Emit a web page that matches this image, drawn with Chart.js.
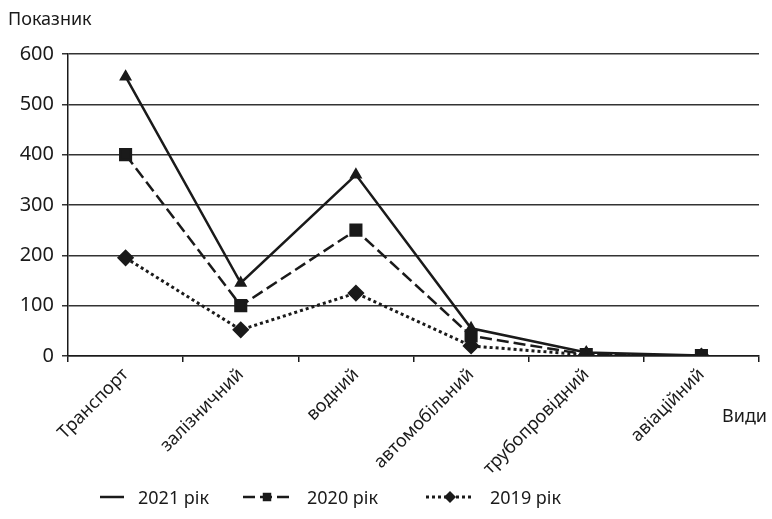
<!DOCTYPE html>
<html>
<head>
<meta charset="utf-8">
<script src="https://cdn.jsdelivr.net/npm/chart.js@4"></script>
<style>
  html, body { margin: 0; padding: 0; background: #fff; }
  #wrap { position: relative; width: 772px; height: 519px; }
</style>
</head>
<body>
<div id="wrap"><canvas id="chart" width="772" height="519"></canvas></div>
<script>
const categories = ['Транспорт', 'залізничний', 'водний', 'автомобільний', 'трубопровідний', 'авіаційний'];
const values2021 = [555, 145, 360, 55, 7, 1];
const values2020 = [400, 100, 250, 40, 3, 1];
const values2019 = [195, 52, 125, 20, 2, 0];
const yTicks = [0, 100, 200, 300, 400, 500, 600];
const seriesNames = ['2021 рік', '2020 рік', '2019 рік'];

const FONT = "'Noto Sans', 'Open Sans', sans-serif";
const INK = '#1a1a1a';

// axis titles and the legend row under the chart
const extras = {
  id: 'extras',
  afterDraw(chart) {
    const ctx = chart.ctx;
    ctx.save();
    ctx.fillStyle = INK;
    ctx.font = '18px ' + FONT;
    ctx.textBaseline = 'alphabetic';
    ctx.textAlign = 'left';
    ctx.fillText('Показник', 8, 25);
    ctx.fillText('Види', 722, 422);

    const rows = [
      { x: 100, dash: [], marker: null },
      { x: 243, dash: [12, 5], marker: 'rect' },
      { x: 426, dash: [3, 3], marker: 'rectRot' }
    ];
    const y = 497;
    rows.forEach((r, i) => {
      ctx.strokeStyle = INK;
      ctx.lineWidth = i === 2 ? 3 : 2.5;
      ctx.setLineDash(r.dash);
      ctx.beginPath();
      ctx.moveTo(r.x, y);
      ctx.lineTo(r.x + (i === 0 ? 24 : 48), y);
      ctx.stroke();
      ctx.setLineDash([]);
      if (r.marker) {
        Chart.helpers.drawPoint(ctx, { pointStyle: r.marker, radius: 6, rotation: 0, borderWidth: 0 }, r.x + 24, y);
      }
      ctx.fillText(seriesNames[i], r.x + (i === 0 ? 38 : 64), y + 7);
    });
    ctx.restore();
  }
};

new Chart(document.getElementById('chart'), {
  type: 'line',
  data: {
    labels: categories,
    datasets: [
      {
        label: seriesNames[0],
        data: values2021,
        borderColor: INK,
        backgroundColor: INK,
        borderWidth: 2.5,
        pointStyle: 'triangle',
        pointRadius: 5,
        tension: 0
      },
      {
        label: seriesNames[1],
        data: values2020,
        borderColor: INK,
        backgroundColor: INK,
        borderWidth: 2.5,
        borderDash: [12, 5],
        pointStyle: 'rect',
        pointRadius: 7.5,
        tension: 0
      },
      {
        label: seriesNames[2],
        data: values2019,
        borderColor: INK,
        backgroundColor: INK,
        borderWidth: 3,
        borderDash: [3, 3],
        pointStyle: 'rectRot',
        pointRadius: 6.5,
        tension: 0
      }
    ]
  },
  options: {
    responsive: false,
    animation: false,
    layout: { padding: { top: 54, right: 13, left: 0, bottom: 0 } },
    plugins: { legend: { display: false }, tooltip: { enabled: false } },
    scales: {
      x: {
        offset: true,
        grid: { offset: true, drawOnChartArea: false, drawTicks: true, tickLength: 6, color: INK, lineWidth: 1.5 },
        border: { color: INK, width: 1.5 },
        ticks: {
          color: INK,
          font: { family: FONT, size: 18 },
          minRotation: 45,
          maxRotation: 45,
          padding: 2,
          autoSkip: false
        },
        afterFit(scale) { scale.height = 519 - 356; }
      },
      y: {
        min: 0,
        max: 600,
        afterBuildTicks(scale) { scale.ticks = yTicks.map(v => ({ value: v })); },
        grid: { color: '#333', lineWidth: 1.5, tickLength: 6 },
        border: { color: INK, width: 1.5 },
        ticks: { color: INK, font: { family: FONT, size: 20 }, padding: 8 },
        afterFit(scale) { scale.width = 68; }
      }
    }
  },
  plugins: [extras]
});
</script>
</body>
</html>
